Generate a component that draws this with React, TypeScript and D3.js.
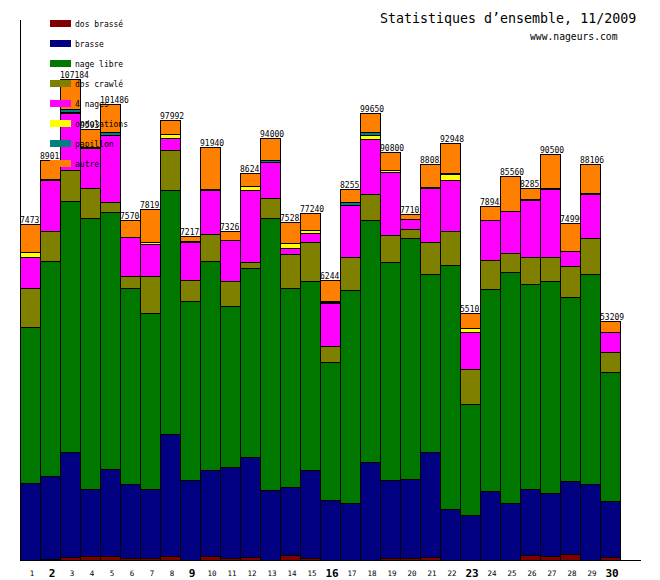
import * as React from "react";
import * as d3 from "d3";

const days = [1, 2, 3, 4, 5, 6, 7, 8, 9, 10, 11, 12, 13, 14, 15, 16, 17, 18, 19, 20, 21, 22, 23, 24, 25, 26, 27, 28, 29, 30];
const boldDays = [2, 9, 16, 23, 30];

const dosBrasse = [0, 334, 601, 824, 824, 379, 379, 824, 0, 824, 379, 601, 0, 1047, 379, 0, 0, 0, 379, 379, 601, 0, 0, 0, 0, 1047, 824, 1269, 0, 601];
const brasse = [17148, 18484, 23384, 14921, 19375, 16547, 15366, 27169, 17749, 19152, 20266, 22270, 15589, 15144, 19598, 13295, 12627, 21758, 17371, 17593, 23384, 11291, 9955, 15366, 12627, 14698, 14030, 16257, 16858, 12538];
const nageLibre = [34674, 47881, 55965, 60352, 57234, 43582, 39195, 54406, 39863, 46544, 35855, 42090, 60574, 44317, 42090, 30733, 47435, 53893, 48549, 53671, 39641, 54339, 24720, 44919, 51444, 45654, 47212, 40977, 46767, 28661];
const dosCrawle = [8685, 6681, 6904, 6681, 2227, 2672, 8240, 8841, 4677, 6013, 5568, 1336, 4454, 7572, 8685, 3563, 7349, 5790, 6013, 2004, 7126, 7572, 7795, 6458, 4231, 6013, 5345, 6904, 8017, 4521];
const quatreNages = [7037, 11358, 12761, 9019, 14921, 8685, 7126, 2672, 8463, 9799, 9131, 16034, 7928, 1336, 2004, 9710, 11580, 12382, 14030, 2227, 12159, 11425, 8240, 8908, 9353, 12828, 15144, 3341, 9932, 4387];
const ondulations = [1114, 150, 120, 150, 0, 150, 579, 891, 200, 200, 150, 1024, 200, 1114, 668, 200, 150, 757, 445, 150, 150, 1269, 891, 0, 0, 150, 200, 0, 150, 150];
const papillon = [0, 0, 757, 0, 668, 0, 0, 150, 150, 150, 0, 0, 356, 0, 0, 150, 601, 668, 150, 0, 0, 290, 0, 0, 0, 0, 150, 0, 0, 0];
const autre = [6079, 4124, 6692, 3992, 6237, 3689, 7308, 3039, 1070, 9258, 1913, 2886, 4899, 4752, 3816, 4790, 2811, 4402, 3863, 1079, 5022, 6762, 3502, 3291, 7905, 2462, 7595, 6242, 6382, 2351];

const seriesNames = ["dos brassé", "brasse", "nage libre", "dos crawlé", "4 nages", "ondulations", "papillon", "autre"];
const seriesColors = ["#800000", "#000080", "#007800", "#808000", "#ff00ff", "#ffff00", "#008080", "#ff8000"];
const seriesValues = [dosBrasse, brasse, nageLibre, dosCrawle, quatreNages, ondulations, papillon, autre];

const yMax = 120260;
const mono = "'DejaVu Sans Mono', monospace";

export default function App() {
  const width = 660;
  const height = 580;

  const rows = days.map((d, i) => {
    const row: any = { day: d };
    seriesNames.forEach((name, s) => (row[name] = seriesValues[s][i]));
    return row;
  });

  const stacked = d3.stack().keys(seriesNames)(rows);

  const x = d3
    .scaleBand()
    .domain(days.map(String))
    .range([20, 620])
    .padding(0);

  const y = d3.scaleLinear().domain([0, yMax]).range([560, 20]);

  return (
    <svg
      width={width}
      height={height}
      style={{ position: "absolute", left: 0, top: 0, background: "#fff" }}
    >
      {/* bars, each with its total, drawn in day order so the next bar hides label overflow */}
      {days.map((d, i) => {
        const x0 = x(String(d))!;
        const total = d3.sum(seriesValues, (s) => s[i]);
        const top = Math.round(y(total));
        return (
          <g key={d}>
            {stacked.map((layer, s) => {
              const [v0, v1] = layer[i];
              if (v1 - v0 <= 0) return null;
              const yt = Math.round(y(v1));
              const yb = Math.round(y(v0));
              return (
                <rect
                  key={s}
                  x={x0 + 0.5}
                  y={yt + 0.5}
                  width={x.bandwidth()}
                  height={Math.max(0, yb - yt)}
                  fill={seriesColors[s]}
                  stroke="#000"
                  strokeWidth={1}
                  shapeRendering="crispEdges"
                />
              );
            })}
            <text
              x={x0}
              y={top - 1}
              fontFamily={mono}
              fontSize={8}
              fill="#000"
            >
              {total}
            </text>
          </g>
        );
      })}

      {/* axes */}
      <line x1={20.5} y1={20} x2={20.5} y2={561} stroke="#000" shapeRendering="crispEdges" />
      <line x1={20} y1={560.5} x2={641} y2={560.5} stroke="#000" shapeRendering="crispEdges" />

      {days.map((d) => {
        const bold = boldDays.includes(d);
        return (
          <text
            key={d}
            x={x(String(d))! + x.bandwidth() / 2 + 2}
            y={bold ? 577 : 576}
            textAnchor="middle"
            fontFamily={mono}
            fontSize={bold ? 11 : 7.5}
            fontWeight={bold ? "bold" : "normal"}
            fill="#000"
          >
            {d}
          </text>
        );
      })}

      {/* legend */}
      {seriesNames.map((name, s) => (
        <g key={name} transform={`translate(50,${20 + s * 20})`}>
          <rect x={0} y={0} width={21} height={7} fill={seriesColors[s]} shapeRendering="crispEdges" />
          <text x={25} y={7} fontFamily={mono} fontSize={8} fill="#000">
            {name}
          </text>
        </g>
      ))}

      {/* title */}
      <text x={380} y={23} fontFamily={mono} fontSize={13.3} fill="#000">
        Statistiques d’ensemble, 11/2009
      </text>
      <text x={530} y={40} fontFamily={mono} fontSize={9.7} fill="#000">
        www.nageurs.com
      </text>
    </svg>
  );
}
